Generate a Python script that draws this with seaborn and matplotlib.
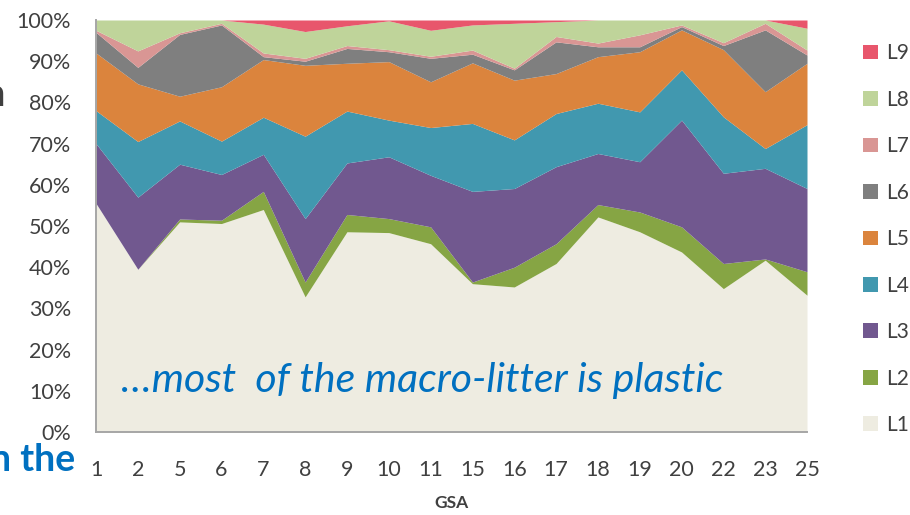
"""Composition of macro-litter categories by GSA (100% stacked area)."""

import matplotlib

matplotlib.use("Agg")

import matplotlib.pyplot as plt
import numpy as np
import seaborn as sns
from matplotlib import font_manager
from matplotlib.patches import Patch
from matplotlib.ticker import PercentFormatter

gsa = ["1", "2", "5", "6", "7", "8", "9", "10", "11",
       "15", "16", "17", "18", "19", "20", "22", "23", "25"]

# share of each litter category per GSA (%)
l1 = [55.5, 39.5, 51.0, 50.6, 54.0, 32.8, 48.6, 48.4, 45.7, 36.0, 35.2, 40.9, 52.2, 48.6, 43.7, 34.8, 41.7, 33.2]
l2 = [0.0, 0.0, 0.7, 0.8, 4.4, 3.6, 4.2, 3.4, 4.1, 0.4, 4.8, 4.8, 3.0, 4.8, 6.1, 6.1, 0.3, 5.7]
l3 = [14.5, 17.5, 13.3, 11.1, 9.0, 15.4, 12.5, 15.0, 12.5, 22.0, 19.1, 18.7, 12.4, 12.2, 25.9, 21.9, 22.0, 20.2]
l4 = [8.0, 13.5, 10.5, 8.1, 9.0, 20.0, 12.6, 8.9, 11.6, 16.5, 11.8, 12.9, 12.2, 12.1, 12.2, 13.7, 4.8, 15.5]
l5 = [14.0, 14.0, 6.0, 13.2, 14.0, 17.2, 11.6, 14.2, 11.1, 14.7, 14.5, 9.7, 11.3, 14.6, 9.7, 16.3, 13.8, 14.9]
l6 = [5.0, 4.0, 15.0, 15.0, 0.7, 1.0, 3.6, 2.4, 5.7, 2.1, 2.5, 7.7, 2.4, 1.2, 0.8, 1.0, 15.0, 2.0]
l7 = [0.5, 4.0, 0.4, 0.4, 0.9, 0.7, 0.7, 0.5, 0.5, 1.0, 0.4, 1.3, 0.9, 2.9, 0.4, 0.7, 1.6, 1.2]
l8 = [2.5, 7.5, 3.1, 0.8, 7.0, 6.5, 4.8, 7.0, 6.3, 6.1, 10.9, 3.6, 5.6, 3.6, 1.2, 5.5, 0.8, 5.3]
l9 = [0.0, 0.0, 0.0, 0.0, 1.0, 2.8, 1.4, 0.2, 2.5, 1.2, 0.8, 0.4, 0.0, 0.0, 0.0, 0.0, 0.0, 2.0]

labels = ["L1", "L2", "L3", "L4", "L5", "L6", "L7", "L8", "L9"]
colors = ["#EEECE1", "#86A544", "#71588F", "#4198AF", "#DB843D",
          "#7F7F7F", "#D99694", "#BFD49A", "#E8566C"]

sns.set_style("white")
installed = {f.name for f in font_manager.fontManager.ttflist}
narrow = "Liberation Sans Narrow" if "Liberation Sans Narrow" in installed else "Lato"
plt.rcParams["font.family"] = ["Lato", "DejaVu Sans"]

series = np.array([l1, l2, l3, l4, l5, l6, l7, l8, l9])
shares = series / series.sum(axis=0)  # 100% stacked
x = np.arange(len(gsa))

fig = plt.figure(figsize=(9.1, 5.15), dpi=100)
ax = fig.add_axes([96 / 910, 1 - 432 / 515, 711 / 910, 412 / 515])
ax.stackplot(x, shares, colors=sns.color_palette(colors), linewidth=0)

ax.set_xlim(0, len(gsa) - 1)
ax.set_ylim(0, 1)
ax.set_xticks(x)
ax.set_xticklabels(gsa)
ax.set_yticks(np.arange(0, 1.01, 0.1))
ax.yaxis.set_major_formatter(PercentFormatter(1.0, decimals=0))
ax.tick_params(axis="both", labelsize=15.5, colors="#404040", length=6,
               width=1.2, direction="out")
ax.tick_params(axis="x", color="#A6A6A6", labelcolor="#404040", pad=14)
ax.tick_params(axis="y", color="#A6A6A6", labelcolor="#404040", pad=12)
sns.despine(ax=ax)
for side in ["left", "bottom"]:
    ax.spines[side].set_color("#A6A6A6")
    ax.spines[side].set_linewidth(1.4)
ax.set_xlabel("GSA", fontsize=12.5, fontweight="bold", color="#404040", labelpad=11)

ax.text(0.6, 0.125, "\u2026most  of the macro-litter is plastic", fontsize=29.5,
        style="italic", color="#0070C0", family=narrow, va="center")

handles = [Patch(facecolor=c, edgecolor="none") for c in colors][::-1]
fig.legend(handles, labels[::-1], loc="upper left", bbox_to_anchor=(855 / 910, 1 - 35 / 515),
           frameon=False, fontsize=15, labelcolor="#404040", handlelength=0.7,
           handleheight=0.7, handletextpad=0.4, labelspacing=1.27, borderaxespad=0)

# slide text cut off at the left edge
fig.text(-0.018, 1 - 95 / 515, "n", fontsize=28, color="#404040", va="center", family=narrow)
fig.text(75 / 910, 1 - 460 / 515, "n the", fontsize=27, fontweight="bold",
         color="#0070C0", va="center", ha="right", family=narrow)

fig.savefig("out.png", dpi=100)
